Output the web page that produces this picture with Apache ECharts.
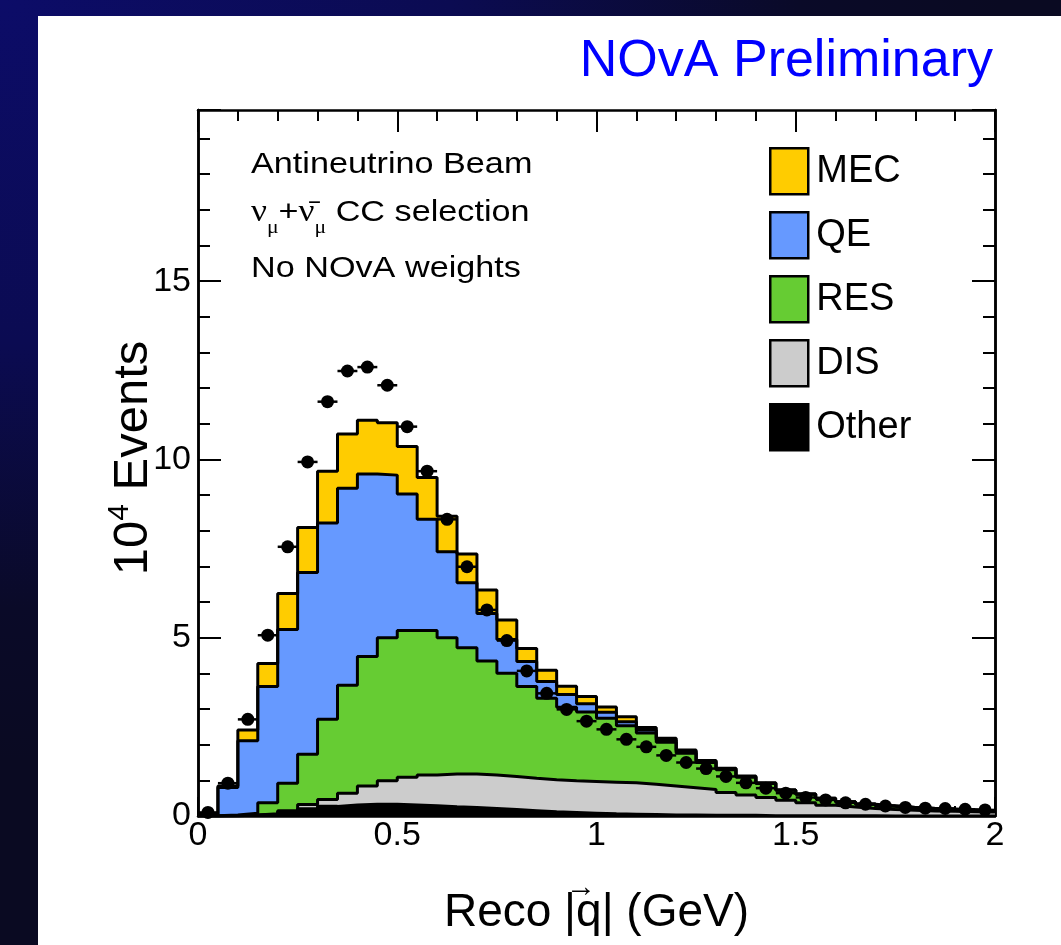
<!DOCTYPE html>
<html>
<head>
<meta charset="utf-8">
<script src="https://cdn.jsdelivr.net/npm/echarts@6/dist/echarts.min.js"></script>
<style>
  html, body { margin: 0; padding: 0; width: 1061px; height: 945px; overflow: hidden;
    background: radial-gradient(ellipse 1000px 760px at 0 0, #0c0c68 0%, #0b0b52 45%, #0a0a28 80%, #0a0a22 100%); }
  #chart { position: absolute; left: 38px; top: 16px; width: 1023px; height: 929px; background: #fff; }
</style>
</head>
<body>
<div id="chart"></div>
<script>
// Reco |q| histogram, 40 bins of 0.05 GeV, in units of 10^4 events
const binWidth = 0.05;
const xMax = 2;
const yMax = 19.8;
const binLowEdges = [0, 0.05, 0.1, 0.15, 0.2, 0.25, 0.3, 0.35, 0.4, 0.45,
  0.5, 0.55, 0.6, 0.65, 0.7, 0.75, 0.8, 0.85, 0.9, 0.95,
  1, 1.05, 1.1, 1.15, 1.2, 1.25, 1.3, 1.35, 1.4, 1.45,
  1.5, 1.55, 1.6, 1.65, 1.7, 1.75, 1.8, 1.85, 1.9, 1.95];

const xTickLabels = ['0', '0.5', '1', '1.5', '2'];
const yTickLabels = ['0', '5', '10', '15'];

// simulated components, bottom of the stack first
const otherVals = [0, 0.01, 0.03, 0.05, 0.12, 0.20, 0.27, 0.31, 0.33, 0.33,
  0.31, 0.29, 0.26, 0.24, 0.21, 0.18, 0.15, 0.12, 0.10, 0.08,
  0.06, 0.05, 0.04, 0.03, 0.03, 0.02, 0.02, 0.02, 0.01, 0.01,
  0.01, 0.01, 0.01, 0.01, 0, 0, 0, 0, 0, 0];
const disVals = [0, 0, 0, 0.01, 0.03, 0.12, 0.19, 0.33, 0.51, 0.66,
  0.78, 0.86, 0.92, 0.94, 0.94, 0.93, 0.91, 0.90, 0.89, 0.89,
  0.89, 0.88, 0.85, 0.81, 0.76, 0.72, 0.64, 0.57, 0.51, 0.43,
  0.36, 0.29, 0.24, 0.20, 0.18, 0.16, 0.14, 0.13, 0.12, 0.11];
const resVals = [0.01, 0.02, 0.05, 0.31, 0.77, 1.41, 2.25, 3.03, 3.63, 4.01,
  4.11, 4.05, 3.82, 3.54, 3.20, 2.89, 2.57, 2.28, 2.06, 1.95,
  1.79, 1.60, 1.44, 1.23, 0.97, 0.76, 0.64, 0.50, 0.39, 0.28,
  0.24, 0.19, 0.14, 0.12, 0.10, 0.08, 0.07, 0.06, 0.05, 0.04];
const qeVals = [0.02, 0.77, 2.03, 3.26, 4.31, 5.10, 5.51, 5.52, 5.12, 4.56,
  3.83, 3.12, 2.41, 1.82, 1.33, 0.95, 0.70, 0.47, 0.36, 0.23,
  0.17, 0.11, 0.08, 0.06, 0.05, 0.04, 0.03, 0.02, 0.01, 0.01,
  0.01, 0.01, 0.01, 0.01, 0, 0, 0, 0, 0, 0];
const mecVals = [0.01, 0.04, 0.30, 0.65, 1.01, 1.26, 1.45, 1.52, 1.51, 1.47,
  1.33, 1.17, 1.00, 0.81, 0.66, 0.55, 0.37, 0.32, 0.23, 0.20,
  0.15, 0.14, 0.07, 0.05, 0.04, 0.02, 0.01, 0.01, 0.01, 0,
  0, 0, 0, 0, 0, 0, 0, 0, 0, 0];

// measured events per bin
const dataVals = [0.10, 0.92, 2.71, 5.07, 7.55, 9.93, 11.62, 12.48, 12.59, 12.08,
  10.92, 9.67, 8.32, 6.99, 5.78, 4.92, 4.07, 3.44, 2.99, 2.66,
  2.43, 2.15, 1.94, 1.70, 1.50, 1.33, 1.11, 0.93, 0.78, 0.64,
  0.52, 0.45, 0.37, 0.33, 0.28, 0.24, 0.22, 0.21, 0.19, 0.17];

const components = [
  { name: 'Other', vals: otherVals, color: '#000000' },
  { name: 'DIS',   vals: disVals,   color: '#cccccc' },
  { name: 'RES',   vals: resVals,   color: '#66cc33' },
  { name: 'QE',    vals: qeVals,    color: '#6699ff' },
  { name: 'MEC',   vals: mecVals,   color: '#ffcc00' }
];

const FONT = 'Liberation Sans, Arial, Helvetica, sans-serif';
const SERIF = 'Liberation Serif, Times New Roman, serif';

// running totals: each component is drawn as the sum of itself and everything below it
let running = binLowEdges.map(() => 0);
const cumulative = components.map(c => {
  running = running.map((v, i) => v + c.vals[i]);
  return { name: c.name, color: c.color, tops: running.slice() };
});
// tallest first, so each smaller total is painted over the previous one
const drawOrder = cumulative.slice().reverse();

// histogram points at the low edge of each bin, closed at the upper edge
function stepData(vals) {
  const pts = binLowEdges.map((x, i) => [x, vals[i]]);
  pts.push([xMax, vals[vals.length - 1]]);
  return pts;
}

const fillSeries = drawOrder.map(c => ({
  name: c.name,
  type: 'line',
  step: 'end',
  data: stepData(c.tops),
  showSymbol: false,
  symbol: 'none',
  color: c.color,
  itemStyle: { color: c.color },
  lineStyle: { width: 0, color: c.color },
  areaStyle: { color: c.color, opacity: 1, origin: 'start' },
  z: 2,
  silent: true
}));

const outlineSeries = drawOrder.map(c => ({
  name: c.name + ' outline',
  type: 'line',
  step: 'end',
  data: stepData(c.tops),
  showSymbol: false,
  symbol: 'none',
  lineStyle: { width: 3, color: '#000' },
  z: 3,
  silent: true
}));

const dataPoints = binLowEdges.map((x, i) => [x + binWidth / 2, dataVals[i]]);

const errorBars = {
  type: 'custom',
  name: 'Data error',
  data: dataPoints,
  z: 4,
  silent: true,
  renderItem: function (params, api) {
    const x = api.value(0), y = api.value(1);
    const p1 = api.coord([x - binWidth / 2, y]);
    const p2 = api.coord([x + binWidth / 2, y]);
    return {
      type: 'line',
      shape: { x1: p1[0], y1: p1[1], x2: p2[0], y2: p2[1] },
      style: { stroke: '#000', lineWidth: 2.5 }
    };
  }
};

const dataSeries = {
  type: 'scatter',
  name: 'Data',
  data: dataPoints,
  symbol: 'circle',
  symbolSize: 13,
  itemStyle: { color: '#000', opacity: 1 },
  z: 5,
  silent: true
};

const tickStyle = { color: '#000', width: 2 };
const frameLine = { show: true, onZero: false, lineStyle: { color: '#000', width: 2.5 } };

function xAxisDef(position, showLabels) {
  return {
    type: 'value', min: 0, max: xMax, interval: 0.5, position: position, offset: 0,
    axisLine: frameLine,
    axisTick: { show: true, inside: true, length: position === 'top' ? 22 : 19, lineStyle: tickStyle },
    minorTick: { show: true, splitNumber: 5, length: position === 'top' ? 11 : 10, lineStyle: tickStyle },
    splitLine: { show: false }, minorSplitLine: { show: false },
    axisLabel: {
      show: true, color: '#000', fontSize: 34, fontFamily: FONT, margin: 3,
      formatter: v => {
        if (!showLabels) return '';
        const s = String(Math.round(v * 10) / 10);
        return xTickLabels.indexOf(s) >= 0 ? s : '';
      }
    }
  };
}

function yAxisDef(position, major, showLabels) {
  return {
    type: 'value', min: 0, max: yMax, interval: major ? 5 : 1, position: position, offset: 0,
    axisLine: frameLine,
    axisTick: { show: true, inside: true, length: major ? 23 : 12, lineStyle: tickStyle },
    splitLine: { show: false },
    axisLabel: {
      show: true, color: '#000', fontSize: 34, fontFamily: FONT, margin: 7,
      formatter: v => (showLabels && yTickLabels.indexOf(String(v)) >= 0 ? String(v) : '')
    }
  };
}

const xBottom = xAxisDef('bottom', true);
xBottom.name = 'Reco |q| (GeV)';
xBottom.nameLocation = 'middle';
xBottom.nameGap = 74;
xBottom.nameMoveOverlap = false;
xBottom.nameTextStyle = { fontSize: 46, color: '#000', fontFamily: FONT };

const yLeft = yAxisDef('left', true, true);
yLeft.name = '{a|10}{b|4}{a| Events}';
yLeft.nameLocation = 'middle';
yLeft.nameRotate = 90;
yLeft.nameGap = 37;
yLeft.nameMoveOverlap = false;
yLeft.nameTextStyle = {
  padding: [0, 0, 0, 10],
  rich: {
    a: { fontSize: 49, lineHeight: 56, color: '#000', fontFamily: FONT },
    b: { fontSize: 30, lineHeight: 32, verticalAlign: 'top', color: '#000', fontFamily: FONT }
  }
};

const TEXT_SCALE = 1.14;

const chart = echarts.init(document.getElementById('chart'), null, { renderer: 'canvas' });

chart.setOption({
  animation: false,
  backgroundColor: '#ffffff',
  title: {
    text: 'NOvA Preliminary', right: 63, top: 15,
    textStyle: { color: '#0000ff', fontSize: 52, fontWeight: 'normal', fontFamily: FONT }
  },
  legend: {
    orient: 'vertical', left: 731, top: 131, padding: 0,
    itemWidth: 38, itemHeight: 46, itemGap: 15.5,
    icon: 'rect', selectedMode: false,
    data: ['MEC', 'QE', 'RES', 'DIS', 'Other'],
    itemStyle: { borderColor: '#000', borderWidth: 2.5 },
    textStyle: { fontSize: 38, lineHeight: 46, color: '#000', fontFamily: FONT, padding: [0, 0, 0, 3] }
  },
  grid: { left: 160, right: 66, top: 94, bottom: 129, outerBoundsMode: 'none', containLabel: false },
  xAxis: [xBottom, xAxisDef('top', false)],
  yAxis: [yLeft, yAxisDef('left', false, false), yAxisDef('right', true, false), yAxisDef('right', false, false)],
  graphic: [
    { type: 'text', x: 213, y: 149, scaleX: TEXT_SCALE, silent: true,
      style: { text: 'Antineutrino Beam', font: '30px ' + FONT, fill: '#000', verticalAlign: 'middle' } },
    { type: 'text', x: 213, y: 197, scaleX: TEXT_SCALE, silent: true,
      style: {
        text: '{g|\u03BD}{s|\u03BC}{n|+}{g|\u03BD\u0304}{s|\u03BC}{n| CC selection}',
        verticalAlign: 'middle',
        rich: {
          g: { fontSize: 31, lineHeight: 50, fontFamily: SERIF, fill: '#000' },
          s: { fontSize: 19, lineHeight: 20, verticalAlign: 'bottom', fontFamily: SERIF, fill: '#000' },
          n: { fontSize: 30, lineHeight: 50, fontFamily: FONT, fill: '#000' }
        }
      } },
    { type: 'text', x: 213, y: 253, scaleX: TEXT_SCALE, silent: true,
      style: { text: 'No NOvA weights', font: '30px ' + FONT, fill: '#000', verticalAlign: 'middle' } },
    // vector arrow over the q of the axis title
    { type: 'text', x: 543, y: 872, silent: true,
      style: { text: '\u2192', font: '30px ' + FONT, fill: '#000', align: 'center', verticalAlign: 'middle' } }
  ],
  series: [...fillSeries, ...outlineSeries, errorBars, dataSeries]
});
</script>
</body>
</html>
